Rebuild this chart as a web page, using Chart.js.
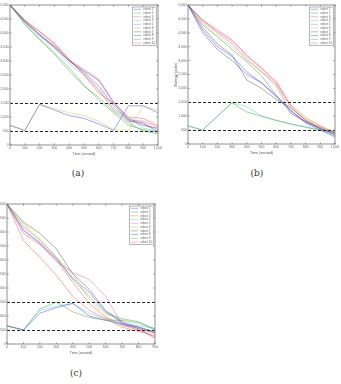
<!DOCTYPE html>
<html>
<head>
<meta charset="utf-8">
<script src="https://cdn.jsdelivr.net/npm/chart.js@4.4.0/dist/chart.umd.min.js"></script>
<style>
  html, body { margin: 0; padding: 0; background: #fff; overflow: hidden; width: 341px; height: 384px; }
  body { position: relative; }
  canvas { position: absolute; }
  .cap { position: absolute; font-family: "DejaVu Serif", "Liberation Serif", serif; font-size: 9px; color: #333; transform: translate(-50%, -50%); }
</style>
</head>
<body>
<canvas id="chartA" width="168" height="156" style="left:-4px;top:0px"></canvas>
<canvas id="chartB" width="167" height="155" style="left:174px;top:0px"></canvas>
<canvas id="chartC" width="168" height="156" style="left:-7px;top:199px"></canvas>
<div class="cap" style="left:78px;top:173px">(a)</div>
<div class="cap" style="left:257px;top:173px">(b)</div>
<div class="cap" style="left:76px;top:373px">(c)</div>
<script>
// ---- data ----
const robotLabels = ["robot 1", "robot 2", "robot 3", "robot 4", "robot 5",
                     "robot 6", "robot 7", "robot 8", "robot 9", "robot 10"];
const timeAB = [0, 100, 200, 300, 400, 500, 600, 700, 800, 900, 1000];
const timeC = [0, 100, 200, 300, 400, 500, 600, 700, 800, 900];
const thresholds = [1500, 500];

// (a) energy per robot
const energyA = [
  [700, 520, 1450, 1250, 1050, 950, 750, 520, 1400, 1400, 1150],
  [5000, 4350, 3800, 3300, 2750, 2150, 1600, 1150, 700, 550, 450],
  [5000, 4450, 4050, 3650, 3050, 2550, 1950, 1250, 900, 850, 650],
  [5000, 4400, 3950, 3450, 2900, 2500, 2000, 1300, 1000, 600, 500],
  [5000, 4450, 3950, 3550, 3050, 2700, 2350, 1550, 950, 750, 550],
  [700, 520, 1450, 1300, 1150, 1050, 850, 550, 520, 1400, 1250],
  [5000, 4400, 3950, 3500, 3000, 2650, 2300, 1500, 900, 700, 600],
  [5000, 4400, 3900, 3500, 3000, 2600, 2100, 1400, 850, 800, 450],
  [5000, 4300, 3750, 3250, 2650, 2100, 1700, 1200, 800, 500, 400],
  [5000, 4450, 4050, 3600, 3050, 2500, 1850, 1500, 1000, 950, 700],
];
// (b)
const energyB = [
  [5000, 4100, 3500, 3150, 2600, 2200, 1700, 1200, 800, 550, 350],
  [650, 500, 1000, 1480, 1150, 1000, 850, 720, 600, 500, 450],
  [5000, 4450, 4050, 3700, 3150, 2700, 2200, 1350, 850, 600, 400],
  [650, 500, 1000, 1480, 1350, 1000, 850, 720, 620, 500, 350],
  [5000, 4400, 4000, 3600, 3050, 2600, 2100, 1100, 800, 600, 300],
  [5000, 4300, 3900, 3500, 3000, 2600, 2150, 1300, 900, 650, 450],
  [5000, 4200, 3600, 3200, 2300, 2000, 1600, 1300, 850, 550, 400],
  [5000, 4000, 3400, 3000, 2500, 2200, 1750, 1200, 750, 500, 250],
  [5000, 4300, 3850, 3400, 2950, 2450, 1750, 1100, 800, 550, 300],
  [5000, 4450, 4100, 3750, 3200, 2750, 2250, 1400, 950, 650, 400],
];
// (c)
const energyC = [
  [650, 500, 1100, 1300, 1450, 1000, 850, 700, 600, 450],
  [5000, 4200, 3700, 3100, 2300, 1700, 1100, 900, 800, 500],
  [5000, 3700, 3100, 2450, 1700, 1200, 900, 600, 450, 300],
  [650, 500, 1200, 1350, 1450, 1100, 900, 750, 650, 550],
  [5000, 4100, 3600, 2950, 2550, 2300, 1700, 700, 500, 250],
  [5000, 4300, 3750, 3100, 2500, 1600, 1000, 650, 500, 350],
  [5000, 4350, 3950, 3400, 2500, 1950, 1200, 800, 600, 400],
  [5000, 4050, 3600, 3050, 2350, 1850, 1150, 750, 550, 400],
  [650, 500, 1250, 1500, 1150, 950, 850, 850, 750, 550],
  [5000, 3950, 3550, 3000, 2200, 1450, 950, 700, 550, 200],
];

// old MATLAB colour order (b g r c m y k, repeating), washed out like the scan
const robotColors = ["rgba(40,40,220,0.6)", "rgba(40,150,40,0.6)", "rgba(240,40,40,0.55)",
                     "rgba(40,190,190,0.55)", "rgba(200,40,200,0.55)", "rgba(190,190,30,0.6)",
                     "rgba(60,60,60,0.6)", "rgba(40,40,220,0.6)", "rgba(40,150,40,0.6)",
                     "rgba(240,40,40,0.55)"];

// ---- MATLAB-like frame, inward ticks, dashed limits and boxed legend ----
const matlabFrame = {
  id: "matlabFrame",
  afterDatasetsDraw(chart) {
    const { ctx, chartArea: a, scales: { x, y } } = chart;
    ctx.save();
    // dashed thresholds
    ctx.strokeStyle = "#222";
    ctx.lineWidth = 1;
    ctx.setLineDash([3, 2]);
    thresholds.forEach((v) => {
      const py = Math.round(y.getPixelForValue(v)) + 0.5;
      ctx.beginPath();
      ctx.moveTo(a.left, py);
      ctx.lineTo(a.right, py);
      ctx.stroke();
    });
    ctx.setLineDash([]);
    // box
    ctx.strokeStyle = "#777";
    ctx.lineWidth = 0.8;
    ctx.strokeRect(a.left, a.top, a.right - a.left, a.bottom - a.top);
    // inward ticks
    const tl = 1.6;
    ctx.beginPath();
    x.ticks.forEach((t) => {
      const px = x.getPixelForValue(t.value);
      ctx.moveTo(px, a.bottom); ctx.lineTo(px, a.bottom - tl);
      ctx.moveTo(px, a.top); ctx.lineTo(px, a.top + tl);
    });
    y.ticks.forEach((t) => {
      const py = y.getPixelForValue(t.value);
      ctx.moveTo(a.left, py); ctx.lineTo(a.left + tl, py);
      ctx.moveTo(a.right, py); ctx.lineTo(a.right - tl, py);
    });
    ctx.stroke();
    // legend
    const bw = 24, bh = 38.5;
    const bx = a.right - 1.5 - bw, by = a.top + 2;
    ctx.fillStyle = "#fff";
    ctx.fillRect(bx, by, bw, bh);
    ctx.strokeStyle = "#888";
    ctx.lineWidth = 0.6;
    ctx.strokeRect(bx, by, bw, bh);
    ctx.font = "3.2px 'Liberation Sans', Arial, sans-serif";
    ctx.textBaseline = "middle";
    chart.data.datasets.forEach((ds, i) => {
      const ly = by + 2.3 + i * 3.75;
      ctx.strokeStyle = ds.borderColor;
      ctx.lineWidth = 0.6;
      ctx.beginPath();
      ctx.moveTo(bx + 1.2, ly); ctx.lineTo(bx + 8.5, ly);
      ctx.stroke();
      ctx.fillStyle = "#666";
      ctx.fillText(ds.label, bx + 11, ly);
    });
    ctx.restore();
  },
};

function makeChart(id, times, series, xMax) {
  return new Chart(document.getElementById(id), {
    type: "line",
    data: {
      datasets: series.map((row, i) => ({
        label: robotLabels[i],
        data: times.map((t, k) => ({ x: t, y: row[k] })),
        borderColor: robotColors[i],
        borderWidth: 0.7,
        pointRadius: 0,
        tension: 0,
        fill: false,
      })),
    },
    options: {
      responsive: false,
      animation: false,
      events: [],
      layout: { padding: { top: 5, right: 6, left: 0, bottom: 0 } },
      plugins: { legend: { display: false }, tooltip: { enabled: false } },
      scales: {
        x: {
          type: "linear", min: 0, max: xMax,
          grid: { display: false, drawTicks: false },
          border: { display: false },
          ticks: { stepSize: 100, padding: 1.5, color: "#666", font: { size: 3.4, family: "'Liberation Sans', Arial" }, maxRotation: 0, autoSkip: false },
          title: { display: true, text: "Time (second)", color: "#555", padding: 0, font: { size: 3.6, family: "'Liberation Sans', Arial" } },
          afterFit: (s) => { s.height = 11; },
        },
        y: {
          min: 0, max: 5000,
          grid: { display: false, drawTicks: false },
          border: { display: false },
          ticks: { stepSize: 500, padding: 1.3, color: "#666", font: { size: 3.4, family: "'Liberation Sans', Arial" }, autoSkip: false },
          title: { display: true, text: "Energy (joule)", color: "#555", padding: 0, font: { size: 3.9, family: "'Liberation Sans', Arial" } },
          afterFit: (s) => { s.width = 14; },
        },
      },
    },
    plugins: [matlabFrame],
  });
}

makeChart("chartA", timeAB, energyA, 1000);
makeChart("chartB", timeAB, energyB, 1000);
makeChart("chartC", timeC, energyC, 900);
</script>
</body>
</html>
